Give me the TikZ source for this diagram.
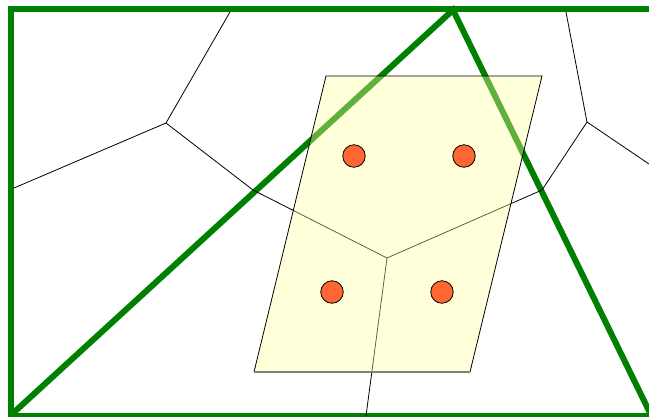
\documentclass[tikz,border=0pt]{standalone}
\usepackage{tikz}
\definecolor{frame}{RGB}{0,128,0}
\definecolor{cellfill}{RGB}{255,255,160}
\definecolor{dotred}{RGB}{255,102,51}
\tikzset{
  greenline/.style={draw=frame, line width=6pt, line join=miter},
  vline/.style={draw=black, line width=0.8pt},
  site/.style={circle, draw=black, line width=0.8pt, fill=dotred, minimum size=22.5pt, inner sep=0pt},
}
\begin{document}
\begin{tikzpicture}[x=1pt,y=-1pt]
\clip (0,0) rectangle (649,416);
\useasboundingbox (0,0) rectangle (649,416);
\fill[white] (0,0) rectangle (649,416);
% green frame and triangle
\draw[greenline] (11,9) rectangle (660,416);
\coordinate (tl) at (11,415);
\coordinate (tt) at (453,10);
\coordinate (tr) at (651,415);
\draw[greenline] (tl) -- (tt) -- (tr);
% voronoi
\coordinate (A) at (166,123);
\coordinate (B) at (387,258);
\coordinate (C) at (542,190);
\coordinate (D) at (587,122);
\coordinate (E) at (253,190);
\coordinate (a1) at (230,12);
\coordinate (a2) at (14,188);
\coordinate (d1) at (566,12);
\coordinate (d2) at (649,164);
\coordinate (b1) at (366,416);
\draw[vline] (a1) -- (A) -- (a2);
\draw[vline] (A) -- (E) -- (B) -- (C) -- (D) -- (d1);
\draw[vline] (D) -- (d2);
\draw[vline] (B) -- (b1);
% parallelogram
\coordinate (p1) at (326,76);
\coordinate (p2) at (542,76);
\coordinate (p3) at (470,372);
\coordinate (p4) at (254,372);
\fill[cellfill, fill opacity=0.38] (p1) -- (p2) -- (p3) -- (p4) -- cycle;
\draw[vline] (p4) -- (p1) -- (p2) -- (p3);
\draw[draw=gray, line width=1.5pt] (p3) -- (p4);
% sites
\node[site] (s1) at (354,156) {};
\node[site] (s2) at (464,156) {};
\node[site] (s3) at (332,292) {};
\node[site] (s4) at (442,292) {};
\end{tikzpicture}
\end{document}
